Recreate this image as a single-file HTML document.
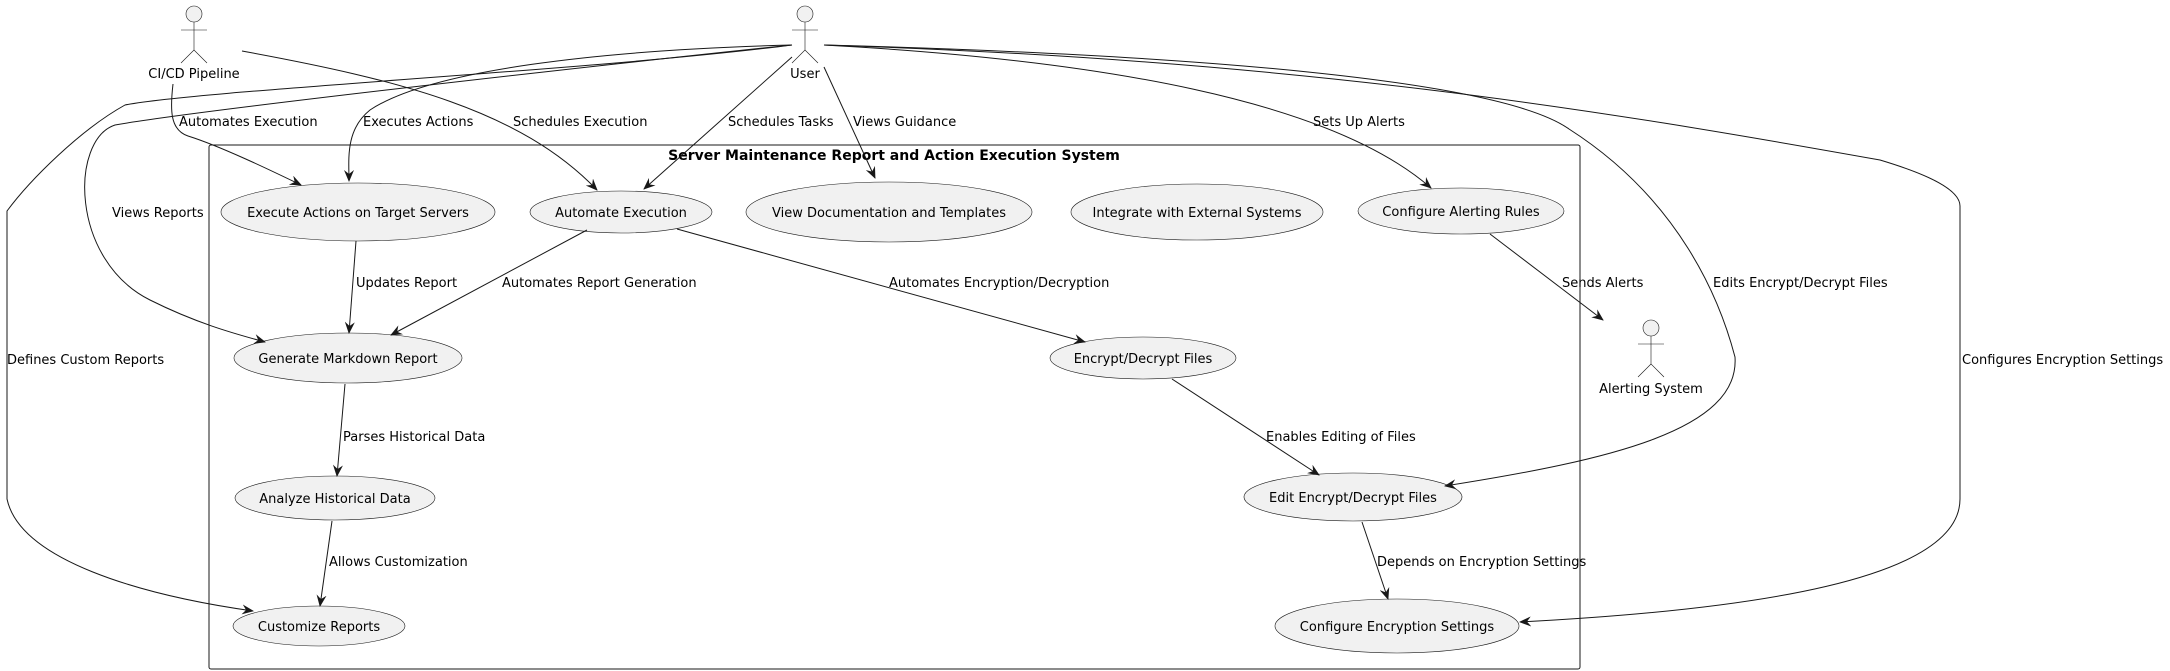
<!DOCTYPE html>
<html><head><meta charset="utf-8"><style>
html,body{margin:0;padding:0;background:#fff;width:2170px;height:671px;overflow:hidden}
text{font-family:"DejaVu Sans","Liberation Sans",sans-serif;font-size:13px;fill:#000}
.e{fill:#F1F1F1;stroke:#181818;stroke-width:0.6}
.l{fill:none;stroke:#181818;stroke-width:1}
</style></head><body>
<svg width="2170" height="671" viewBox="0 0 2170 671" xmlns="http://www.w3.org/2000/svg">
<defs><marker id="a" viewBox="0 0 12 10" refX="11" refY="5" markerWidth="12" markerHeight="10" markerUnits="userSpaceOnUse" orient="auto"><path d="M0,0 L12,5 L0,10 L4,5 Z" fill="#181818"/></marker></defs>
<rect x="209" y="145" width="1371" height="524" rx="2" fill="none" stroke="#181818" stroke-width="1"/>
<text x="894" y="160" text-anchor="middle" font-weight="bold" style="font-size:14px">Server Maintenance Report and Action Execution System</text>

<!-- actors -->
<g fill="#F1F1F1" stroke="#181818" stroke-width="0.6">
<circle cx="194" cy="14" r="8"/><path d="M194,22V50M181,30H207M194,50L181,63M194,50L207,63" fill="none"/>
<circle cx="805" cy="14" r="8"/><path d="M805,22V50M792,30H818M805,50L792,63M805,50L818,63" fill="none"/>
<circle cx="1651" cy="328" r="8"/><path d="M1651,336V364M1638,344H1664M1651,364L1638,377M1651,364L1664,377" fill="none"/>
</g>
<text x="194" y="78" text-anchor="middle">CI/CD Pipeline</text>
<text x="805" y="78" text-anchor="middle">User</text>
<text x="1651" y="393" text-anchor="middle">Alerting System</text>

<!-- ellipses -->
<ellipse class="e" cx="358" cy="212" rx="137" ry="29"/><text x="358" y="217" text-anchor="middle">Execute Actions on Target Servers</text>
<ellipse class="e" cx="621" cy="212" rx="91" ry="21"/><text x="621" y="217" text-anchor="middle">Automate Execution</text>
<ellipse class="e" cx="889" cy="212" rx="143" ry="30"/><text x="889" y="217" text-anchor="middle">View Documentation and Templates</text>
<ellipse class="e" cx="1197" cy="212" rx="126" ry="28"/><text x="1197" y="217" text-anchor="middle">Integrate with External Systems</text>
<ellipse class="e" cx="1461" cy="211" rx="103" ry="23"/><text x="1461" y="216" text-anchor="middle">Configure Alerting Rules</text>
<ellipse class="e" cx="348" cy="358" rx="114" ry="25"/><text x="348" y="363" text-anchor="middle">Generate Markdown Report</text>
<ellipse class="e" cx="1143" cy="358" rx="93" ry="21"/><text x="1143" y="363" text-anchor="middle">Encrypt/Decrypt Files</text>
<ellipse class="e" cx="335" cy="498" rx="100" ry="22"/><text x="335" y="503" text-anchor="middle">Analyze Historical Data</text>
<ellipse class="e" cx="1353" cy="497" rx="109" ry="24"/><text x="1353" y="502" text-anchor="middle">Edit Encrypt/Decrypt Files</text>
<ellipse class="e" cx="319" cy="626" rx="86" ry="20"/><text x="319" y="631" text-anchor="middle">Customize Reports</text>
<ellipse class="e" cx="1397" cy="626" rx="122" ry="27"/><text x="1397" y="631" text-anchor="middle">Configure Encryption Settings</text>

<!-- edges -->
<g class="l" marker-end="url(#a)">
<path d="M173,84 C170,110 170,130 188,136 C220,146 270,170 301,185"/>
<path d="M242,51 C400,80 520,110 597,190"/>
<path d="M792,45 C600,50 430,70 370,110 C345,130 349,160 349,181"/>
<path d="M792,57 L644,189"/>
<path d="M824,67 L875,178"/>
<path d="M792,45 C600,65 200,110 115,125 C70,140 70,260 150,300 C200,325 240,335 265,342"/>
<path d="M792,45 C600,70 200,90 125,105 C80,130 30,180 7,211 L7,499 C20,560 140,595 253,611"/>
<path d="M356,241 L349,333"/>
<path d="M587,230 L391,335"/>
<path d="M677,229 L1085,342"/>
<path d="M345,384 L337,476"/>
<path d="M332,521 L320,606"/>
<path d="M824,45 C1100,60 1330,100 1431,188"/>
<path d="M1490,234 L1603,320"/>
<path d="M824,45 C1200,55 1500,80 1569,129 C1680,200 1720,300 1735,357 C1740,430 1610,460 1445,486"/>
<path d="M824,45 C1300,60 1600,110 1880,160 C1930,175 1960,190 1960,206 L1960,499 C1960,580 1750,610 1520,622"/>
<path d="M1172,379 L1319,475"/>
<path d="M1362,522 L1388,599"/>
</g>

<!-- labels -->
<text x="179" y="126">Automates Execution</text>
<text x="513" y="126">Schedules Execution</text>
<text x="363" y="126">Executes Actions</text>
<text x="728" y="126">Schedules Tasks</text>
<text x="853" y="126">Views Guidance</text>
<text x="112" y="217">Views Reports</text>
<text x="7" y="364">Defines Custom Reports</text>
<text x="356" y="287">Updates Report</text>
<text x="502" y="287">Automates Report Generation</text>
<text x="889" y="287">Automates Encryption/Decryption</text>
<text x="343" y="441">Parses Historical Data</text>
<text x="329" y="566">Allows Customization</text>
<text x="1313" y="126">Sets Up Alerts</text>
<text x="1562" y="287">Sends Alerts</text>
<text x="1713" y="287">Edits Encrypt/Decrypt Files</text>
<text x="1962" y="364">Configures Encryption Settings</text>
<text x="1266" y="441">Enables Editing of Files</text>
<text x="1377" y="566">Depends on Encryption Settings</text>
</svg>
</body></html>
